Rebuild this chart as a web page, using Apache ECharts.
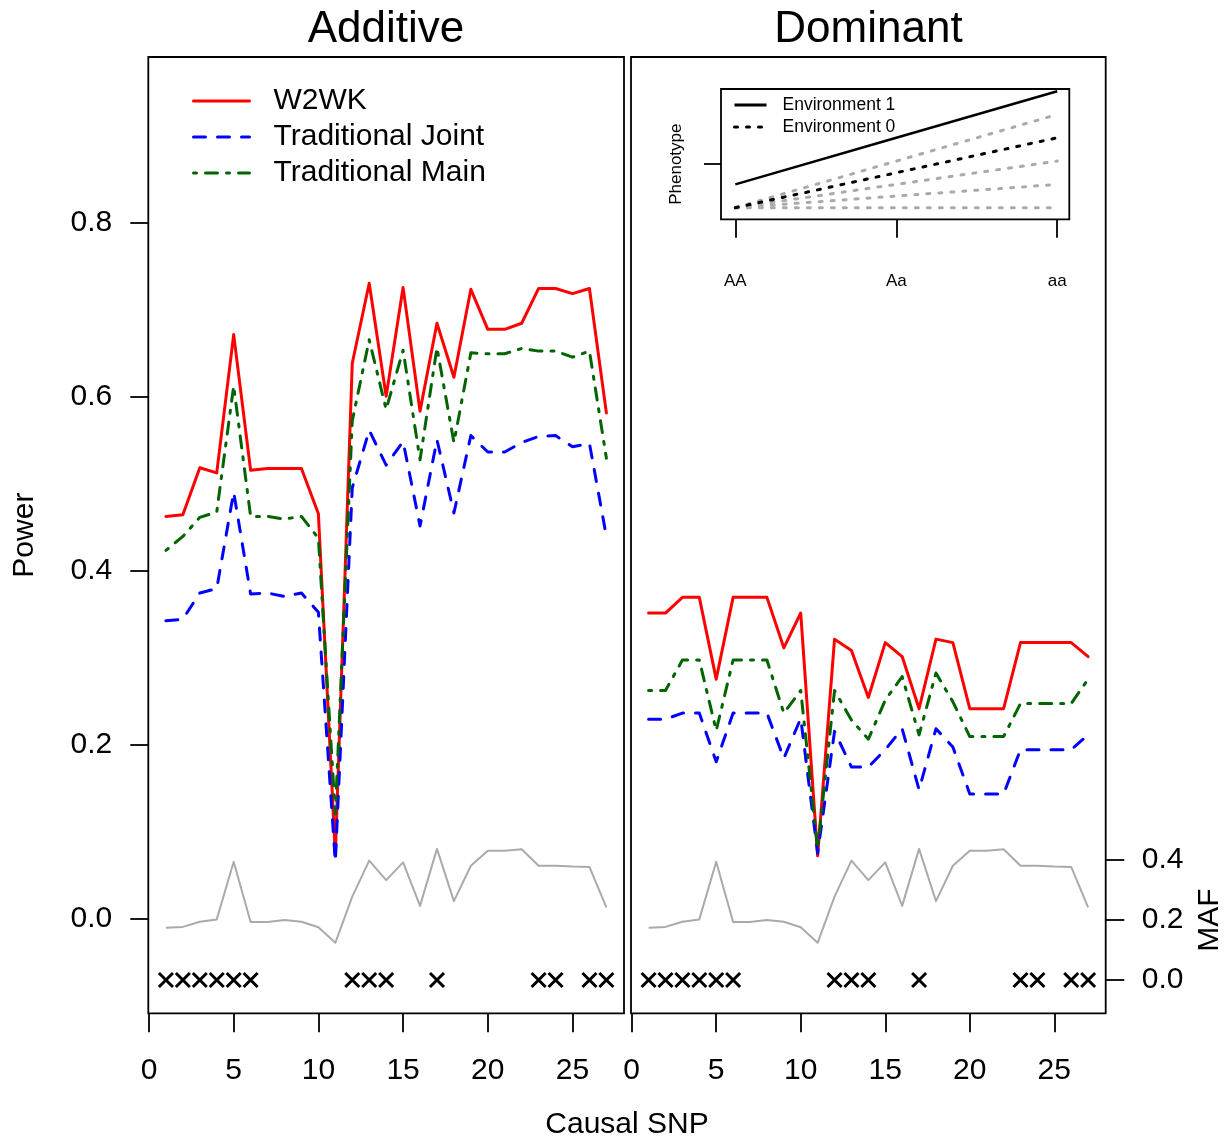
<!DOCTYPE html>
<html><head><meta charset="utf-8">
<script src="https://cdn.jsdelivr.net/npm/echarts@6/dist/echarts.min.js"></script>
<style>html,body{margin:0;padding:0;background:#fff}#c{width:1231px;height:1144px}</style>
</head><body><div id="c"></div>
<script>
// ---------------- data ----------------
const snp = [1,2,3,4,5,6,7,8,9,10,11,12,13,14,15,16,17,18,19,20,21,22,23,24,25,26,27];
const xTicks = [0,5,10,15,20,25];
const powerTicks = [0,0.2,0.4,0.6,0.8];
const mafTicks = [0,0.2,0.4];

const addW2WK = [0.462,0.464,0.518,0.512,0.671,0.515,0.517,0.517,0.517,0.465,0.073,0.638,0.730,0.600,0.725,0.583,0.684,0.622,0.723,0.677,0.677,0.684,0.724,0.724,0.718,0.724,0.581];
const addJoint = [0.342,0.344,0.374,0.379,0.490,0.373,0.374,0.370,0.374,0.352,0.065,0.495,0.561,0.521,0.548,0.451,0.550,0.466,0.555,0.536,0.536,0.547,0.554,0.555,0.542,0.546,0.439];
const addMain  = [0.423,0.439,0.461,0.467,0.612,0.462,0.462,0.459,0.462,0.437,0.120,0.572,0.665,0.585,0.653,0.527,0.656,0.547,0.650,0.649,0.649,0.655,0.652,0.652,0.645,0.652,0.529];

const domW2WK = [0.351,0.351,0.369,0.369,0.275,0.369,0.369,0.369,0.311,0.351,0.072,0.321,0.308,0.254,0.317,0.301,0.241,0.321,0.317,0.241,0.241,0.241,0.317,0.317,0.317,0.317,0.301];
const domJoint = [0.229,0.229,0.236,0.236,0.180,0.236,0.236,0.236,0.184,0.230,0.075,0.215,0.174,0.174,0.194,0.218,0.148,0.218,0.197,0.143,0.143,0.143,0.194,0.194,0.194,0.194,0.211];
const domMain  = [0.262,0.262,0.297,0.297,0.216,0.297,0.297,0.297,0.236,0.262,0.080,0.262,0.228,0.206,0.251,0.278,0.211,0.282,0.249,0.209,0.209,0.209,0.247,0.247,0.247,0.247,0.275];

const maf = [0.174,0.177,0.194,0.202,0.394,0.193,0.193,0.200,0.194,0.176,0.124,0.278,0.398,0.333,0.392,0.247,0.437,0.263,0.381,0.431,0.431,0.436,0.381,0.381,0.378,0.377,0.242];
const markedSnp = [1,2,3,4,5,6,12,13,14,17,23,24,26,27];

// inset
const genoPos = [0,1,2];
const genoLabels = ['AA','Aa','aa'];
const env1 = [1,3,5];
const env0 = [0,1.5,3];
const grayA = [0,2,4];
const grayB = [0,1,2];
const grayC = [0,0.5,1];
const grayD = [0,0,0];
const phenoTick = [1.876];

// ---------------- helpers ----------------
const FONT = '"Liberation Sans", Arial, Helvetica, sans-serif';
const zip = (xs, ys) => xs.map((x, i) => [x, ys[i]]);
const RED = '#ff0000', BLUE = '#0000ff', GREEN = '#006400', GRAY = '#aaaaaa';
const BW = 1.8;

function xAxisMain(gi) {
  return {
    type: 'value', gridIndex: gi, min: -0.04, max: 28.04,
    axisLine: { show: false, onZero: false }, splitLine: { show: false },
    axisTick: { show: true, customValues: xTicks, length: 19, lineStyle: { color: '#000', width: BW } },
    axisLabel: { customValues: xTicks, margin: 42, fontSize: 30, color: '#000', fontFamily: FONT }
  };
}

const chart = echarts.init(document.getElementById('c'));

function panelSeries(xi, yi, yiMaf, w, j, m) {
  return [
    { name: 'MAF', type: 'line', xAxisIndex: xi, yAxisIndex: yiMaf, data: zip(snp, maf), symbol: 'none',
      lineStyle: { color: GRAY, width: 2, join: 'round' }, z: 2 },
    { name: 'marked', type: 'scatter', xAxisIndex: xi, yAxisIndex: yiMaf, data: markedSnp.map(s => [s, 0]),
      symbol: 'path://M0,0L10,10M10,0L0,10', symbolSize: 14,
      itemStyle: { color: 'none', borderColor: '#000', borderWidth: 3, opacity: 1 }, z: 2 },
    { name: 'W2WK', type: 'line', xAxisIndex: xi, yAxisIndex: yi, data: zip(snp, w), symbol: 'none',
      itemStyle: { color: RED },
      lineStyle: { color: RED, width: 3, join: 'round', cap: 'round' }, z: 3 },
    { name: 'Traditional Joint', type: 'line', xAxisIndex: xi, yAxisIndex: yi, data: zip(snp, j), symbol: 'none',
      itemStyle: { color: BLUE },
      lineStyle: { color: BLUE, width: 3, type: [12, 12], cap: 'round', join: 'round' }, z: 4 },
    { name: 'Traditional Main', type: 'line', xAxisIndex: xi, yAxisIndex: yi, data: zip(snp, m), symbol: 'none',
      itemStyle: { color: GREEN },
      lineStyle: { color: GREEN, width: 3, type: [3, 9, 12, 9], cap: 'round', join: 'round' }, z: 5 }
  ];
}

function insetLine(name, data, color, type, width, z) {
  return { name: name, type: 'line', xAxisIndex: 2, yAxisIndex: 4, data: zip(genoPos, data), symbol: 'none',
    itemStyle: { color: color },
    lineStyle: { color: color, width: width, type: type, cap: type === 'solid' ? 'butt' : 'round' }, z: z };
}

const option = {
  animation: false,
  backgroundColor: '#fff',
  textStyle: { fontFamily: FONT },
  grid: [
    { left: 148.3, top: 57, width: 475.7, height: 956.3, show: true, borderColor: '#000', borderWidth: BW, backgroundColor: 'transparent' },
    { left: 631, top: 57, width: 474.7, height: 956.3, show: true, borderColor: '#000', borderWidth: BW, backgroundColor: 'transparent' },
    { left: 721, top: 89, width: 348.3, height: 130.3, show: true, borderColor: '#000', borderWidth: BW, backgroundColor: '#fff', z: 6 }
  ],
  xAxis: [
    xAxisMain(0),
    xAxisMain(1),
    { type: 'value', gridIndex: 2, min: -0.089, max: 2.075, z: 7,
      axisLine: { show: false, onZero: false }, splitLine: { show: false },
      axisTick: { show: true, customValues: genoPos, length: 18.4, lineStyle: { color: '#000', width: BW } },
      axisLabel: { customValues: genoPos, margin: 54, fontSize: 17, color: '#000', fontFamily: FONT,
        formatter: v => genoLabels[Math.round(v)] } }
  ],
  yAxis: [
    { type: 'value', gridIndex: 0, min: -0.109, max: 0.990,
      axisLine: { show: false, onZero: false }, splitLine: { show: false },
      axisTick: { show: true, customValues: powerTicks, length: 18, lineStyle: { color: '#000', width: BW } },
      axisLabel: { customValues: powerTicks, margin: 36, fontSize: 30, color: '#000', fontFamily: FONT,
        formatter: v => v.toFixed(1) },
      name: 'Power', nameLocation: 'middle', nameGap: 109, nameRotate: 90,
      nameTextStyle: { fontSize: 30, color: '#000', fontFamily: FONT } },
    { type: 'value', gridIndex: 0, min: -0.111, max: 3.0767, show: false },
    { type: 'value', gridIndex: 1, min: -0.109, max: 0.990,
      axisLine: { show: false, onZero: false }, splitLine: { show: false }, axisTick: { show: false }, axisLabel: { show: false } },
    { type: 'value', gridIndex: 1, position: 'right', min: -0.111, max: 3.0767,
      axisLine: { show: false, onZero: false }, splitLine: { show: false },
      axisTick: { show: true, customValues: mafTicks, length: 18.6, lineStyle: { color: '#000', width: BW } },
      axisLabel: { customValues: mafTicks, margin: 36, fontSize: 30, color: '#000', fontFamily: FONT,
        formatter: v => v.toFixed(1) } },
    { type: 'value', gridIndex: 2, min: -0.498, max: 5.094, z: 7,
      axisLine: { show: false, onZero: false }, splitLine: { show: false },
      axisTick: { show: true, customValues: phenoTick, length: 17, lineStyle: { color: '#000', width: BW } },
      axisLabel: { show: false },
      name: 'Phenotype', nameLocation: 'middle', nameGap: 36, nameRotate: 90,
      nameTextStyle: { fontSize: 17, color: '#000', fontFamily: FONT, padding: [0, 20, 0, 0] } }
  ],
  legend: [
    { data: ['W2WK', 'Traditional Joint', 'Traditional Main'], orient: 'vertical', left: 187, top: 78,
      itemWidth: 56, itemHeight: 36, itemGap: 0, selectedMode: false,
      itemStyle: { opacity: 0, borderWidth: 0 },
      lineStyle: { width: 3 },
      textStyle: { fontSize: 30, color: '#000', fontFamily: FONT, lineHeight: 36, padding: [0, 0, 0, 19] } },
    { data: ['Environment 1', 'Environment 0'], orient: 'vertical', left: 728, top: 89, z: 8,
      itemWidth: 32, itemHeight: 22, itemGap: 0, selectedMode: false,
      itemStyle: { opacity: 0, borderWidth: 0 },
      lineStyle: { width: 3 },
      textStyle: { fontSize: 17.5, color: '#000', fontFamily: FONT, lineHeight: 22, padding: [0, 0, 0, 11] } }
  ],
  graphic: [
    { type: 'text', x: 386, y: 30, style: { text: 'Additive', fontSize: 44, fontFamily: FONT, fill: '#000', align: 'center', verticalAlign: 'middle' } },
    { type: 'text', x: 868.5, y: 30, style: { text: 'Dominant', fontSize: 44, fontFamily: FONT, fill: '#000', align: 'center', verticalAlign: 'middle' } },
    { type: 'text', x: 627, y: 1125, style: { text: 'Causal SNP', fontSize: 30, fontFamily: FONT, fill: '#000', align: 'center', verticalAlign: 'middle' } },
    { type: 'text', x: 1210, y: 920, rotation: Math.PI / 2, style: { text: 'MAF', fontSize: 30, fontFamily: FONT, fill: '#000', align: 'center', verticalAlign: 'middle' } }
  ],
  series: [].concat(
    panelSeries(0, 0, 1, addW2WK, addJoint, addMain),
    panelSeries(1, 2, 3, domW2WK, domJoint, domMain),
    [
      insetLine('g4', grayA, GRAY, [3, 9], 3, 8),
      insetLine('g2', grayB, GRAY, [3, 9], 3, 8),
      insetLine('g1', grayC, GRAY, [3, 9], 3, 8),
      insetLine('g0', grayD, GRAY, [3, 9], 3, 8),
      insetLine('Environment 0', env0, '#000', [3, 9], 3, 9),
      insetLine('Environment 1', env1, '#000', 'solid', 2.5, 9)
    ]
  )
};
chart.setOption(option);
</script>
</body></html>
